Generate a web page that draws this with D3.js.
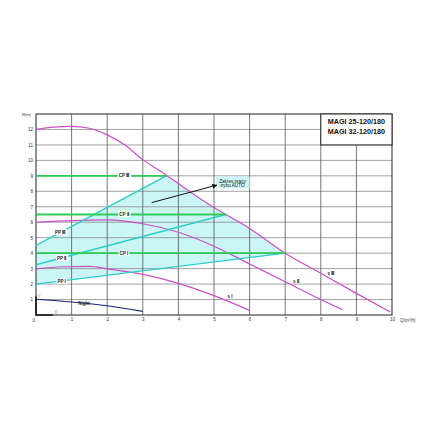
<!DOCTYPE html>
<html>
<head>
<meta charset="utf-8">
<script src="https://cdn.jsdelivr.net/npm/d3@7"></script>
<style>
body{margin:0;background:#fff;}
svg text{font-family:"Liberation Sans",Arial,sans-serif;}
</style>
</head>
<body>
<svg id="chart" width="440" height="440"></svg>
<script>
// ---------- data ----------
const xTicks=[0,1,2,3,4,5,6,7,8,9,10];
const yTicks=[0,1,2,3,4,5,6,7,8,9,10,11,12];
const maxCurve=[[0,12.0],[0.5,12.15],[1,12.2],[1.5,12.08],[2,11.65],[2.5,11.0],[3,10.05],[3.5,9.3],[4,8.5],[4.5,7.7],[5,6.95],[6,5.6],[7,4.0],[8,2.7],[9,1.4],[9.95,0.2]];
const curveII=[[0,6.0],[1,6.1],[2,6.15],[3,5.9],[4,5.35],[5,4.45],[6,3.3],[7,2.15],[8,1.0],[8.6,0.35]];
const curveI=[[0,2.98],[0.75,3.12],[1.5,3.14],[2,2.98],[3,2.63],[4,2.05],[5,1.25],[6,0.3]];
const nightCurve=[[0,1.02],[1,0.84],[2,0.6],[3,0.24]];
const ppLines=[[[0,2.0],[7,4.0]],[[0,3.25],[5.33,6.5]],[[0,4.5],[3.66,9.0]]];
const cpLines=[[[0,4],[7,4]],[[0,6.5],[5.33,6.5]],[[0,9],[3.66,9]]];
const maxEdge=[[3.66,9.04],[4,8.5],[4.5,7.7],[5,6.95],[6,5.6],[7,4.0]];
const cpLabels=[["CP I",2.47,4],["CP Ⅱ",2.47,6.5],["CP Ⅲ",2.47,9]];
const ppLabels=[["PP I",0.72,2.2],["PP Ⅱ",0.72,3.68],["PP Ⅲ",0.68,5.35]];
const sLabels=[["s I",5.45,1.2],["s Ⅱ",7.3,2.2],["s Ⅲ",8.28,2.7]];
const models=["MAGI 25-120/180","MAGI 32-120/180"];

const svg=d3.select("#chart");
const x=d3.scaleLinear().domain([0,10]).range([36,392]);
const y=d3.scaleLinear().domain([0,13]).range([315,114]);
const line=d3.line().x(d=>x(d[0])).y(d=>y(d[1]));
const smooth=d3.line().x(d=>x(d[0])).y(d=>y(d[1])).curve(d3.curveMonotoneX);

// ---------- fill ----------
const edge=smooth(maxEdge).replace(/^M/,"L");
svg.append("path")
    .attr("d",`M${x(0)},${y(4.5)}`+edge+`L${x(0)},${y(2)}Z`)
    .attr("fill","#cbf6f6");

// ---------- grid ----------
svg.append("g").selectAll("line").data(yTicks.slice(1)).join("line")
    .attr("x1",x(0)).attr("x2",x(10))
    .attr("y1",d=>y(d)).attr("y2",d=>y(d))
    .attr("stroke","#8a8a8a").attr("stroke-width",0.8);
svg.append("g").selectAll("line").data(xTicks.slice(1,-1)).join("line")
    .attr("x1",d=>x(d)).attr("x2",d=>x(d))
    .attr("y1",y(0)).attr("y2",y(13))
    .attr("stroke","#555").attr("stroke-width",0.8);
svg.append("rect")
    .attr("x",x(0)).attr("y",y(13))
    .attr("width",x(10)-x(0)).attr("height",y(0)-y(13))
    .attr("fill","none").attr("stroke","#222").attr("stroke-width",1);

// ---------- axes ----------
const xAxis=svg.append("g").attr("transform",`translate(0,${y(0)})`)
    .call(d3.axisBottom(x).tickValues(xTicks.slice(1)).tickSize(0).tickPadding(3));
const yAxis=svg.append("g").attr("transform",`translate(${x(0)},0)`)
    .call(d3.axisLeft(y).tickValues(yTicks.slice(1)).tickSize(0).tickPadding(3));
[xAxis,yAxis].forEach(a=>{
    a.select(".domain").remove();
    a.selectAll("text").attr("font-size",4.5).attr("fill","#333")
        .style("font-family","Liberation Sans, Arial, sans-serif");
});
svg.append("text").attr("x",x(0)-1).attr("y",y(0)+7).attr("font-size",4.5)
    .attr("text-anchor","end").attr("fill","#333").text("0");
svg.append("text").attr("x",x(10)+8).attr("y",y(0)+7).attr("font-size",4.5)
    .attr("fill","#333").text("Q(m³/h)");
svg.append("text").attr("x",22).attr("y",y(13)+2).attr("font-size",4)
    .attr("fill","#333").text("H(m)");

// origin marker
svg.append("path").attr("d",`M${x(0)},${y(1)-3}L${x(0)},${y(0)}L${x(0.47)},${y(0)}`)
    .attr("fill","none").attr("stroke","#111").attr("stroke-width",1.6);
svg.append("text").attr("x",x(0)+1).attr("y",y(1.1)).attr("font-size",6)
    .attr("fill","#aaa").text("Y");
svg.append("text").attr("x",x(0.5)).attr("y",y(0)-1).attr("font-size",6)
    .attr("fill","#aaa").text("X");

// ---------- curves ----------
[maxCurve,curveII,curveI].forEach(c=>{
    svg.append("path").attr("d",smooth(c))
        .attr("fill","none").attr("stroke","#cc4fc8").attr("stroke-width",1.2);
});
svg.append("path").attr("d",smooth(nightCurve))
    .attr("fill","none").attr("stroke","#1c1f7a").attr("stroke-width",1.2);

ppLines.forEach(l=>{
    svg.append("path").attr("d",line(l))
        .attr("fill","none").attr("stroke","#2fcccc").attr("stroke-width",1.3);
});
cpLines.forEach(l=>{
    svg.append("path").attr("d",line(l))
        .attr("fill","none").attr("stroke","#2fcc55").attr("stroke-width",1.8);
});

// ---------- labels ----------
function tag(t,cx,cy,bg){
    const g=svg.append("g");
    const txt=g.append("text").attr("x",x(cx)).attr("y",y(cy)+1.6)
        .attr("text-anchor","middle").attr("font-size",4.5)
        .attr("font-weight","bold").attr("fill","#222").text(t);
    if(bg){
        const b=txt.node().getBBox();
        g.insert("rect","text").attr("x",b.x-1).attr("y",b.y)
            .attr("width",b.width+2).attr("height",b.height).attr("fill",bg);
    }
}
cpLabels.forEach(d=>tag(d[0],d[1],d[2],"#fff"));
ppLabels.forEach(d=>tag(d[0],d[1],d[2],"#fff"));
sLabels.forEach(d=>tag(d[0],d[1],d[2],null));
tag("Night",1.35,0.72,null);

// ---------- annotation ----------
svg.append("defs").append("marker")
    .attr("id","arr").attr("viewBox","0 0 10 10")
    .attr("refX",9).attr("refY",5)
    .attr("markerWidth",5).attr("markerHeight",5)
    .attr("orient","auto")
    .append("path").attr("d","M0 0L10 5L0 10Z").attr("fill","#111");
svg.append("rect").attr("x",x(5.05)).attr("y",y(8.95))
    .attr("width",x(6.0)-x(5.05)).attr("height",y(8.2)-y(8.95))
    .attr("fill","#cbf6f6");
svg.append("text").attr("x",x(5.52)).attr("y",y(8.55)).attr("font-size",4.6)
    .attr("text-anchor","middle").attr("fill","#222").text("Zakres pracy");
svg.append("text").attr("x",x(5.52)).attr("y",y(8.25)).attr("font-size",4.6)
    .attr("text-anchor","middle").attr("fill","#222").text("trybu AUTO");
svg.append("line")
    .attr("x1",x(3.25)).attr("y1",y(7.27))
    .attr("x2",x(5.08)).attr("y2",y(8.4))
    .attr("stroke","#111").attr("stroke-width",1)
    .attr("marker-end","url(#arr)");

// ---------- model box ----------
svg.append("rect").attr("x",x(8)).attr("y",y(13))
    .attr("width",x(10)-x(8)).attr("height",y(11)-y(13))
    .attr("fill","#fff").attr("stroke","#222").attr("stroke-width",1);
svg.selectAll(".model").data(models).join("text")
    .attr("class","model")
    .attr("x",x(9)).attr("y",(d,i)=>y(12.35)+i*10)
    .attr("text-anchor","middle").attr("font-size",7.2)
    .attr("font-weight","bold").attr("fill","#111")
    .text(d=>d);
</script>
</body>
</html>
